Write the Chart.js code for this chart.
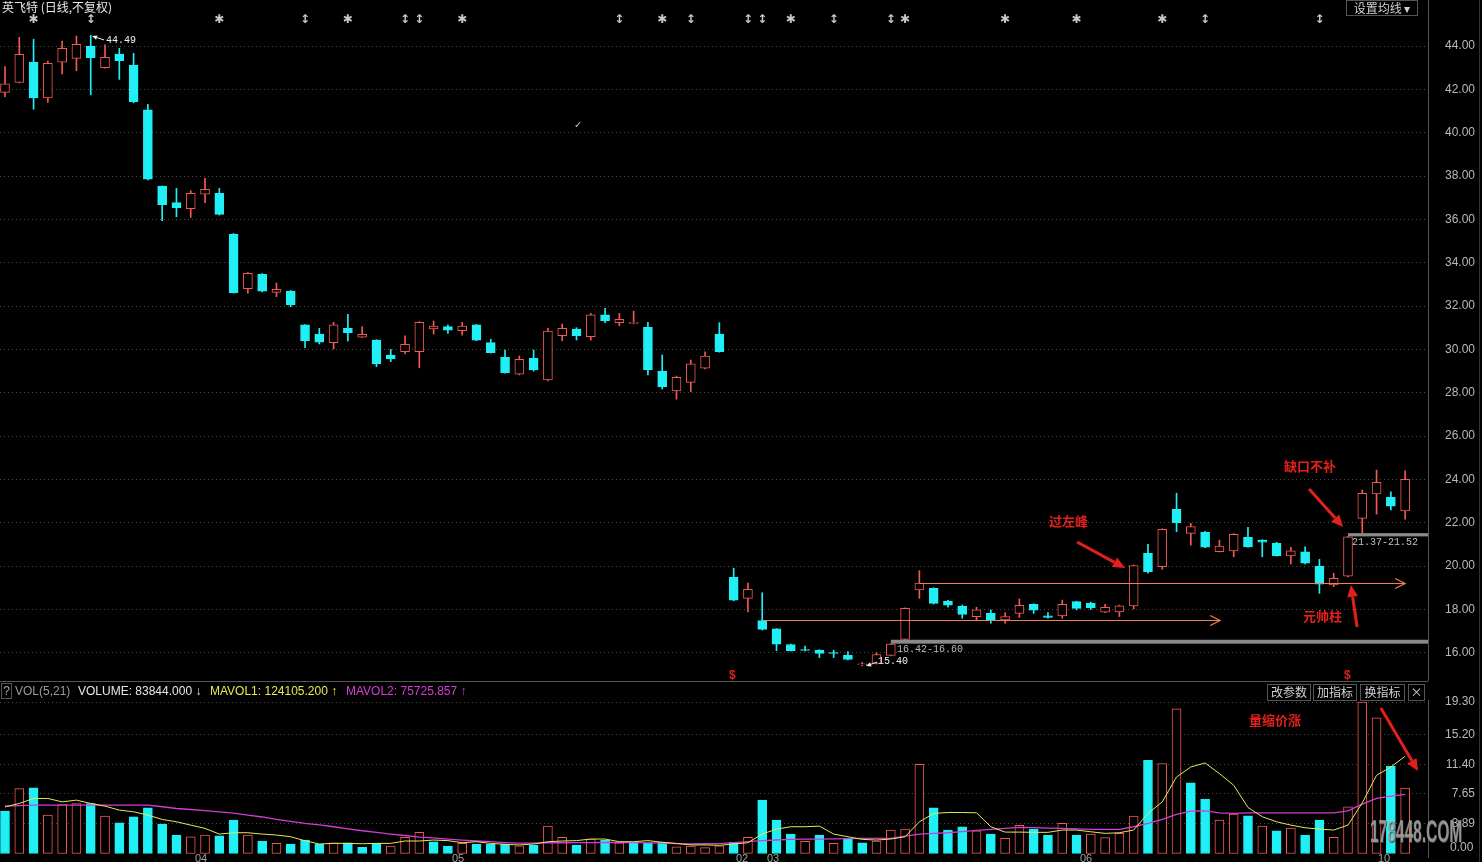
<!DOCTYPE html>
<html>
<head>
<meta charset="utf-8">
<script src="https://cdn.jsdelivr.net/npm/chart.js@4.4.1/dist/chart.umd.min.js"></script>
<style>
html, body { margin: 0; padding: 0; background: #000; overflow: hidden; width: 1482px; height: 862px; }
#wrap { position: relative; width: 1482px; height: 862px; font-family: "Liberation Sans", Arial, sans-serif; }
canvas { position: absolute; left: 0; }
.t { position: absolute; white-space: nowrap; font-size: 12px; line-height: 14px; }
.mono { position: absolute; white-space: nowrap; font-family: "Liberation Mono", monospace; font-size: 10px; line-height: 12px; }
.btn { position: absolute; border: 1px solid #555; color: #d0d0d0; font-size: 12px; line-height: 14px; text-align: center; font-family: "Noto Sans CJK SC", sans-serif; }
.red { position: absolute; color: #e3201c; font-weight: bold; font-size: 13px; line-height: 16px; font-family: "Noto Sans CJK SC", sans-serif; white-space: nowrap; }
.date { position: absolute; color: #a0a0a0; font-size: 11px; top: 852px; }
</style>
</head>
<body>
<div id="wrap">
  <canvas id="priceChart" width="1482" height="681" style="top:0"></canvas>
  <canvas id="volChart" width="1482" height="181" style="top:681px"></canvas>
  <div style="position:absolute;left:0;top:681px;width:1428px;height:1px;background:#555"></div>
  <div style="position:absolute;left:1479px;top:0;width:1px;height:862px;background:#333"></div>

  <div class="t" style="left:2px;top:0;color:#e8e8e8;font-family:'Noto Sans CJK SC'">英飞特 (日线,不复权)</div>
  <div class="btn" style="left:1346px;top:0;width:70px;height:14px">设置均线 ▾</div>

  <div class="mono" style="left:106px;top:35px;color:#f0f0f0">44.49</div>
  <div class="mono" style="left:878px;top:656px;color:#f0f0f0">15.40</div>
  <div class="mono" style="left:897px;top:644px;color:#b8b8b8">16.42-16.60</div>
  <div class="mono" style="left:1352px;top:537px;color:#c0c0c0">21.37-21.52</div>
  <div class="t" style="left:574px;top:118px;color:#c0c0c0;font-size:10px">✓</div>
  <div class="t" style="left:729px;top:668px;color:#e02020;font-weight:bold">$</div>
  <div class="t" style="left:1344px;top:668px;color:#e02020;font-weight:bold">$</div>

  <div class="red" style="left:1049px;top:513px">过左峰</div>
  <div class="red" style="left:1284px;top:458px">缺口不补</div>
  <div class="red" style="left:1303px;top:608px">元帅柱</div>
  <div class="red" style="left:1249px;top:712px">量缩价涨</div>

  <div class="btn" style="left:1px;top:683px;width:9px;height:14px;color:#aaa;font-family:'Liberation Sans'">?</div>
  <div class="t" style="left:15px;top:684px;color:#9a9a9a">VOL(5,21)</div>
  <div class="t" style="left:78px;top:684px;color:#e6e6e6">VOLUME: 83844.000 ↓</div>
  <div class="t" style="left:210px;top:684px;color:#e8e84e">MAVOL1: 124105.200 ↑</div>
  <div class="t" style="left:346px;top:684px;color:#d63cd6">MAVOL2: 75725.857 ↑</div>
  <div class="btn" style="left:1267px;top:684px;width:42px;height:15px">改参数</div>
  <div class="btn" style="left:1313px;top:684px;width:42px;height:15px">加指标</div>
  <div class="btn" style="left:1360px;top:684px;width:43px;height:15px">换指标</div>
  <div class="btn" style="left:1408px;top:684px;width:15px;height:15px">×</div>
  <div class="t" style="left:1450px;top:840px;color:#b8b8b8">0.00</div>

  <div class="t" style="left:1370px;top:815px;color:rgba(205,205,205,0.6);font-size:31px;line-height:34px;font-weight:bold;transform:scaleX(0.5);transform-origin:left top;text-shadow:1px 1px 0 #444">178448.COM</div>

  <div class="date" style="left:195px">04</div>
  <div class="date" style="left:452px">05</div>
  <div class="date" style="left:736px">02</div>
  <div class="date" style="left:767px">03</div>
  <div class="date" style="left:1080px">06</div>
  <div class="date" style="left:1378px">10</div>
</div>

<script>
// daily candles, price in yuan
const opens = [41.86,42.32,43.26,41.61,43.25,43.43,44.00,43.00,43.63,43.12,
  41.05,37.54,36.77,36.49,37.16,37.20,35.31,32.80,33.46,32.63,
  32.69,31.13,30.71,30.31,30.97,30.56,30.43,29.74,29.89,29.89,
  30.94,31.05,30.86,31.13,30.31,29.63,28.86,29.59,28.59,30.63,
  30.94,30.59,31.59,31.23,31.20,31.02,29.00,28.08,28.48,29.13,
  30.71,19.48,18.51,17.48,17.10,16.38,16.14,16.12,15.99,15.88,
  15.45,15.51,15.88,16.62,18.90,18.97,18.39,18.16,17.67,17.82,
  17.51,17.82,18.24,17.71,17.70,18.36,18.28,17.87,17.89,18.16,
  20.59,19.97,22.62,21.51,21.56,20.66,20.70,21.33,21.20,21.05,
  20.47,20.66,20.00,19.13,19.54,22.20,23.33,23.17,22.54];
const highs = [43.05,44.40,44.31,43.31,44.23,44.46,44.49,44.05,43.89,43.66,
  41.31,37.54,37.43,37.32,37.89,37.43,35.35,33.55,33.50,33.06,
  32.72,31.15,30.97,31.25,31.62,31.05,30.45,30.00,30.62,31.28,
  31.31,31.13,31.25,31.15,30.47,29.97,29.69,29.97,30.97,31.17,
  31.00,31.66,31.90,31.66,31.77,31.25,29.74,28.77,29.51,29.89,
  31.23,19.90,19.21,18.77,17.12,16.40,16.31,16.14,16.12,16.06,
  15.55,16.00,16.42,18.07,19.79,19.00,18.42,18.20,18.10,17.98,
  17.85,18.48,18.26,17.85,18.43,18.38,18.34,18.24,18.20,20.05,
  21.00,21.72,23.36,21.97,21.60,21.20,21.50,21.79,21.22,21.10,
  20.87,20.89,20.31,19.67,21.37,23.51,24.43,23.43,24.40];
const lows = [41.66,42.30,41.08,41.40,42.71,42.86,41.75,42.98,42.46,41.38,
  37.82,35.94,36.12,36.09,36.77,36.20,32.60,32.59,32.65,32.43,
  31.97,30.08,30.25,30.02,30.39,30.55,29.20,29.43,29.79,29.15,
  30.71,30.74,30.66,30.40,29.83,28.90,28.82,29.00,28.55,30.40,
  30.43,30.43,31.23,31.09,31.18,28.82,28.17,27.70,28.05,29.10,
  29.87,18.40,17.89,17.05,16.10,16.08,16.08,15.78,15.78,15.67,
  15.40,15.48,15.86,16.60,18.51,18.25,18.10,17.59,17.51,17.36,
  17.36,17.63,17.82,17.60,17.59,17.98,18.00,17.85,17.67,18.02,
  19.67,19.85,21.59,20.97,20.85,20.65,20.43,20.87,20.43,20.46,
  20.10,20.10,18.74,19.05,19.50,21.52,22.40,22.59,22.16];
const closes = [42.25,43.62,41.61,43.20,43.89,44.08,43.46,43.48,43.32,41.43,
  37.86,36.68,36.54,37.20,37.39,36.23,32.62,33.51,32.69,32.77,
  32.05,30.39,30.33,31.13,30.77,30.70,29.33,29.56,30.23,31.25,
  31.08,30.89,31.08,30.43,29.85,28.92,29.54,29.05,30.85,30.97,
  30.63,31.59,31.31,31.39,31.25,29.05,28.28,28.71,29.33,29.69,
  29.89,18.43,18.93,17.08,16.40,16.10,16.12,15.97,15.98,15.69,
  15.48,15.92,16.40,18.05,19.21,18.28,18.20,17.77,17.98,17.48,
  17.67,18.19,17.97,17.63,18.24,18.05,18.08,18.10,18.17,20.02,
  19.74,21.70,22.00,21.82,20.87,20.92,21.47,20.89,21.10,20.48,
  20.70,20.13,19.16,19.44,21.35,23.36,23.87,22.77,24.00];

// volume in units of 10k shares, with its 5- and 21-day averages
const volumes = [5.44,8.31,8.39,4.94,6.29,6.41,6.41,4.81,3.97,4.73,
  5.86,3.80,2.41,2.19,2.41,2.32,4.30,2.41,1.65,1.35,
  1.27,1.77,1.23,1.43,1.43,0.85,1.35,1.01,2.11,2.75,
  1.56,1.01,1.35,1.27,1.23,1.23,1.05,1.14,3.54,2.11,
  1.14,1.90,1.77,1.43,1.48,1.43,1.48,0.92,1.01,0.80,
  1.05,1.48,2.11,6.84,4.30,2.53,1.61,2.41,1.35,1.90,
  1.43,1.65,3.04,3.16,11.39,5.86,3.04,3.46,2.95,2.53,
  1.98,3.63,3.16,2.41,3.89,2.41,2.53,2.07,2.61,4.81,
  11.90,11.48,18.44,9.03,6.96,4.30,5.06,4.85,3.54,2.95,
  3.29,2.41,4.30,2.11,5.99,19.28,17.30,11.14,8.38];
const mavol1 = [5.98,6.42,7.05,7.05,6.62,6.84,6.42,6.08,5.57,5.36,
  4.94,4.39,4.09,3.67,3.25,2.53,2.70,2.70,2.53,2.41,
  2.19,1.68,1.27,1.35,1.35,1.30,1.35,1.35,1.65,1.65,
  1.77,1.70,1.43,1.56,1.35,1.23,1.15,1.27,1.56,1.65,
  1.70,1.90,1.90,1.56,1.56,1.70,1.49,1.35,1.15,1.15,
  1.10,1.27,1.43,2.53,3.16,3.46,3.46,3.54,2.53,2.19,
  1.86,1.77,1.90,2.19,4.09,5.15,5.27,5.27,5.23,3.46,
  2.78,2.78,2.75,2.75,3.04,3.04,2.82,2.62,2.70,3.04,
  5.15,6.62,9.78,11.05,11.56,10.21,8.73,5.91,4.73,4.09,
  3.67,3.33,3.16,3.04,3.67,6.49,10.00,11.05,12.41];
const mavol2 = [6.08,6.15,6.20,6.20,6.20,6.20,6.20,6.20,6.20,6.20,
  6.20,6.00,5.78,5.65,5.50,5.36,5.20,4.94,4.70,4.39,
  4.15,3.89,3.70,3.46,3.20,2.95,2.75,2.53,2.35,2.15,
  2.05,1.90,1.77,1.65,1.56,1.45,1.38,1.38,1.43,1.43,
  1.45,1.45,1.46,1.48,1.45,1.42,1.38,1.32,1.27,1.30,
  1.32,1.45,1.56,1.70,1.78,1.86,1.88,1.90,1.92,1.95,
  1.98,1.98,1.98,2.28,2.53,2.62,2.70,2.85,3.00,3.12,
  3.25,3.38,3.35,3.29,3.25,3.18,3.12,3.12,3.12,3.46,
  3.89,4.39,5.02,5.44,5.48,5.23,5.15,5.23,5.23,5.23,
  5.23,5.23,5.23,5.23,5.48,6.33,7.05,7.34,7.57];

const priceTicks = [16, 18, 20, 22, 24, 26, 28, 30, 32, 34, 36, 38, 40, 42, 44];
const volTicks = [0, 3.89, 7.65, 11.40, 15.20, 19.30];

// markers along the top edge
const starMarks = [2, 15, 24, 32, 46, 55, 63, 70, 75, 81];
const arrowMarks = [6, 21, 28, 29, 43, 48, 52, 53, 58, 62, 84, 92];

// drawn notes, in bar index / price units
const gapZones = [{ from: 62, lo: 16.42, hi: 16.60 }, { from: 94, lo: 21.37, hi: 21.52 }];
const levelLines = [{ price: 17.51, from: 53, to: 85.05 }, { price: 19.22, from: 64, to: 98 }];
const noteArrows = [
  { from: [75.04, 21.11], to: [78.4, 19.91] },
  { from: [91.28, 23.56], to: [93.66, 21.80] },
  { from: [94.64, 17.19], to: [94.2, 19.13] }
];
const pointers = [
  { from: [6.93, 44.28], to: [6.09, 44.46] },
  { from: [61.04, 15.57], to: [60.27, 15.39] }
];
const volArrow = { from: [96.3, 18.54], to: [98.9, 10.54] };

const RED = '#f05a52';
const CYAN = '#20f0f5';
const X_MIN = -0.35, X_MAX = 99.6;
const idx = opens.map((_, i) => i);
const up = idx.map(i => closes[i] >= opens[i]);
const volUp = idx.map(i => i > 0 && closes[i] > closes[i - 1]);

function bodyRange(i) {
  const a = Math.min(opens[i], closes[i]), b = Math.max(opens[i], closes[i]);
  if (b - a < 0.04) { const m = (a + b) / 2; return [m - 0.02, m + 0.02]; }
  return [a, b];
}

function drawArrow(ctx, x1, y1, x2, y2, color, w, head) {
  const a = Math.atan2(y2 - y1, x2 - x1);
  const bx = x2 - head * Math.cos(a), by = y2 - head * Math.sin(a);
  const s = head * 0.45;
  ctx.save();
  ctx.strokeStyle = color; ctx.fillStyle = color; ctx.lineWidth = w;
  ctx.beginPath(); ctx.moveTo(x1, y1); ctx.lineTo(bx, by); ctx.stroke();
  ctx.beginPath(); ctx.moveTo(x2, y2);
  ctx.lineTo(bx + s * Math.sin(a), by - s * Math.cos(a));
  ctx.lineTo(bx - s * Math.sin(a), by + s * Math.cos(a));
  ctx.closePath(); ctx.fill();
  ctx.restore();
}

const priceNotes = {
  id: 'priceNotes',
  afterDatasetsDraw(chart) {
    const { ctx, chartArea, scales: { x, y } } = chart;
    ctx.save();
    gapZones.forEach(g => {
      const x0 = x.getPixelForValue(g.from);
      const top = y.getPixelForValue(g.hi), bot = y.getPixelForValue(g.lo);
      ctx.fillStyle = '#8a8a8a';
      ctx.fillRect(x0, top, chartArea.right - x0, Math.max(bot - top, 2));
    });
    levelLines.forEach(l => {
      const py = Math.round(y.getPixelForValue(l.price)) + 0.5;
      const x0 = x.getPixelForValue(l.from), x1 = x.getPixelForValue(l.to);
      ctx.strokeStyle = '#f0804c'; ctx.lineWidth = 1.2;
      ctx.beginPath(); ctx.moveTo(x0, py); ctx.lineTo(x1, py); ctx.stroke();
      ctx.beginPath(); ctx.moveTo(x1 - 10, py - 5); ctx.lineTo(x1, py); ctx.lineTo(x1 - 10, py + 5); ctx.stroke();
    });
    noteArrows.forEach(a => drawArrow(ctx,
      x.getPixelForValue(a.from[0]), y.getPixelForValue(a.from[1]),
      x.getPixelForValue(a.to[0]), y.getPixelForValue(a.to[1]), '#e3201c', 3, 12));
    pointers.forEach(a => drawArrow(ctx,
      x.getPixelForValue(a.from[0]), y.getPixelForValue(a.from[1]),
      x.getPixelForValue(a.to[0]), y.getPixelForValue(a.to[1]), '#f0f0f0', 1, 5));
    ctx.fillStyle = '#c8c8c8';
    ctx.textAlign = 'center'; ctx.textBaseline = 'middle';
    ctx.font = 'bold 12px "DejaVu Sans"';
    starMarks.forEach(i => ctx.fillText('✱', x.getPixelForValue(i), 20));
    arrowMarks.forEach(i => ctx.fillText('↕', x.getPixelForValue(i), 20));
    ctx.restore();
  }
};

const volNotes = {
  id: 'volNotes',
  afterDatasetsDraw(chart) {
    const { ctx, scales: { x, y } } = chart;
    drawArrow(ctx, x.getPixelForValue(volArrow.from[0]), y.getPixelForValue(volArrow.from[1]),
      x.getPixelForValue(volArrow.to[0]), y.getPixelForValue(volArrow.to[1]), '#e3201c', 3, 12);
  }
};

const tickFont = { size: 12, family: 'Liberation Sans' };

new Chart(document.getElementById('priceChart'), {
  type: 'bar',
  data: {
    datasets: [
      {
        data: idx.map(i => ({ x: i, y: [lows[i], highs[i]] })),
        backgroundColor: idx.map(i => up[i] ? RED : CYAN),
        barThickness: 1, grouped: false, order: 2
      },
      {
        data: idx.map(i => ({ x: i, y: bodyRange(i) })),
        backgroundColor: idx.map(i => up[i] ? '#000' : CYAN),
        borderColor: idx.map(i => up[i] ? RED : CYAN),
        borderWidth: 1, borderSkipped: false,
        barThickness: 9, grouped: false, order: 1
      }
    ]
  },
  options: {
    responsive: false,
    animation: false,
    layout: { padding: { right: 7 } },
    plugins: { legend: { display: false }, tooltip: { enabled: false } },
    scales: {
      x: { type: 'linear', min: X_MIN, max: X_MAX, offset: false, display: false },
      y: {
        position: 'right', min: 14.697, max: 46.123,
        afterBuildTicks: s => { s.ticks = priceTicks.map(v => ({ value: v })); },
        afterFit: s => { s.width = 47; s.paddingTop = 0; s.paddingBottom = 0; },
        ticks: { color: '#b8b8b8', font: tickFont, padding: 6, crossAlign: 'far', callback: v => v.toFixed(2) },
        grid: { color: '#4a4a4a', drawTicks: false },
        border: { color: '#555', dash: [1, 3] }
      }
    }
  },
  plugins: [priceNotes]
});

new Chart(document.getElementById('volChart'), {
  type: 'bar',
  data: {
    datasets: [
      {
        data: idx.map(i => ({ x: i, y: volumes[i] })),
        backgroundColor: idx.map(i => volUp[i] ? '#000' : CYAN),
        borderColor: idx.map(i => volUp[i] ? RED : CYAN),
        borderWidth: 1, borderSkipped: false,
        barThickness: 9, grouped: false, order: 3
      },
      {
        type: 'line',
        data: idx.map(i => ({ x: i, y: mavol2[i] })),
        borderColor: '#d23cd2', borderWidth: 1.3, pointRadius: 0, order: 2
      },
      {
        type: 'line',
        data: idx.map(i => ({ x: i, y: mavol1[i] })),
        borderColor: '#e6e65a', borderWidth: 1, pointRadius: 0, order: 1
      }
    ]
  },
  options: {
    responsive: false,
    animation: false,
    layout: { padding: { top: 19, bottom: 5, right: 7 } },
    plugins: { legend: { display: false }, tooltip: { enabled: false } },
    scales: {
      x: { type: 'linear', min: X_MIN, max: X_MAX, offset: false, display: false },
      y: {
        position: 'right', min: -0.381, max: 19.554,
        afterBuildTicks: s => { s.ticks = volTicks.map(v => ({ value: v })); },
        afterFit: s => { s.width = 47; s.paddingTop = 0; s.paddingBottom = 0; },
        ticks: { color: '#b8b8b8', font: tickFont, padding: 6, crossAlign: 'far', callback: v => v === 0 ? '' : v.toFixed(2) },
        grid: { color: c => c.tick && c.tick.value === 0 ? 'rgba(0,0,0,0)' : '#4a4a4a', drawTicks: false },
        border: { color: '#555', dash: [1, 3] }
      }
    }
  },
  plugins: [volNotes]
});
</script>
</body>
</html>
